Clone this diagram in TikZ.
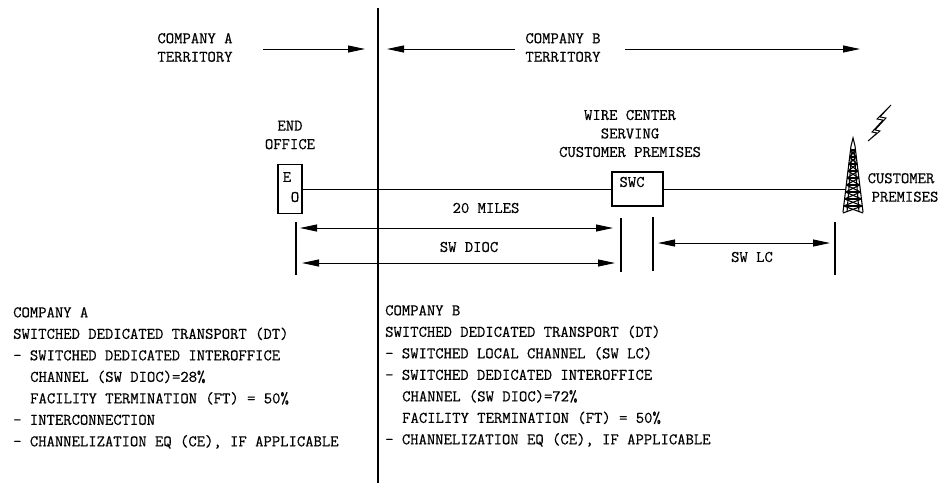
\documentclass[tikz,border=0pt]{standalone}
\usepackage{fontspec}
\setmonofont{Latin Modern Mono}[FakeBold=0.5]
\usetikzlibrary{arrows.meta}

\begin{document}
\begin{tikzpicture}[
        x=1pt, y=-1pt,
        font=\ttfamily\fontsize{16.2}{18.5}\selectfont,
        >={Triangle[length=17pt,width=7pt]},
        wire/.style={line width=0.9pt, black},
        border/.style={line width=2.6pt, black},
        territory/.style={->, line width=0.9pt},
        dimline/.style={<->, line width=0.9pt},
        tick/.style={line width=1.1pt},
        office/.style={draw, line width=1.1pt, inner sep=0pt},
        caption/.style={align=center, inner sep=0pt},
        tower/.style={line width=1.1pt, black},
        notes/.style={align=left, anchor=north west, inner sep=0pt,
            font=\ttfamily\fontsize{16.2}{21.5}\selectfont}
    ]
        \useasboundingbox (0,0) rectangle (940,483);

        % Frontera entre territorios
        \draw[border] (378,8) -- (378,483);

        % Territorios
        \node[caption] (compA) at (195,47.5) {COMPANY A\\TERRITORY};
        \node[caption] (compB) at (563,47.5) {COMPANY B\\TERRITORY};
        \coordinate (aStart) at (263,49);
        \coordinate (aEnd) at (365,49);
        \coordinate (bStart) at (515,49);
        \coordinate (bEnd) at (387,49);
        \coordinate (cStart) at (625,49);
        \coordinate (cEnd) at (860,49);
        \draw[territory] (aStart) -- (aEnd);
        \draw[territory] (bStart) -- (bEnd);
        \draw[territory] (cStart) -- (cEnd);

        % Oficinas
        \node[caption] (eoLabel) at (290,135) {END\\OFFICE};
        \node[office, minimum width=24pt, minimum height=49pt] (eo) at (290,189) {};
        \node[inner sep=0pt] (eoE) at (287,177) {E};
        \node[inner sep=0pt] (eoO) at (295,197) {O};

        \node[caption] (swcLabel) at (630,133.5) {WIRE CENTER\\SERVING\\CUSTOMER PREMISES};
        \node[office, minimum width=51pt, minimum height=34pt] (swc) at (637.5,189) {};
        \node[inner sep=0pt] (swcText) at (632,182) {SWC};

        % Torre del cliente
        \coordinate (tower) at (845,189);
        \draw[tower] (843,212) -- (851,146) -- (853,138) -- (855,146) -- (863,212);
        \draw[tower] (847,212) -- (852,150);
        \draw[tower] (859,212) -- (854,150);
        \foreach \yy in {150,157,...,206} {
            \draw[tower] ({851-(\yy-146)*0.121},\yy) -- ({855+(\yy-146)*0.121},\yy);
            \draw[tower] ({851-(\yy-146)*0.121},\yy) -- ({855+(\yy+7-146)*0.121},\yy+7);
            \draw[tower] ({855+(\yy-146)*0.121},\yy) -- ({851-(\yy+7-146)*0.121},\yy+7);
        }
        \draw[wire] (891,105) -- (880,117) -- (886,118) -- (875,130) -- (880,131)
            -- (868,141) -- (877,133) -- (872,132) -- (883,120) -- (877,119) -- cycle;
        \node[caption] (custLabel) at (901,187.5) {CUSTOMER\\\hspace*{8pt}PREMISES};

        % Enlaces
        \draw[wire] (eo.east) -- (swc.west);
        \draw[wire] (swc.east) -- (tower);

        % Cotas
        \draw[tick] (296,222) -- (296,275);
        \draw[tick] (621,218) -- (621,272);
        \draw[tick] (653,217) -- (653,271);
        \draw[tick] (835,222) -- (835,275);

        \coordinate (milesL) at (300,228);
        \coordinate (milesR) at (613,228);
        \coordinate (diocL) at (302,263);
        \coordinate (diocR) at (615,263);
        \coordinate (lcL) at (658,243);
        \coordinate (lcR) at (830,243);
        \draw[dimline] (milesL) -- (milesR);
        \draw[dimline] (diocL) -- (diocR);
        \draw[dimline] (lcL) -- (lcR);
        \node[inner sep=0pt] (miles) at (486,208) {20 MILES};
        \node[inner sep=0pt] (dioc) at (469,247) {SW DIOC};
        \node[inner sep=0pt] (lc) at (752,257) {SW LC};

        % Notas por compania
        \node[notes] (notesA) at (13,307) {COMPANY A\\
            SWITCHED DEDICATED TRANSPORT (DT)\\
            - SWITCHED DEDICATED INTEROFFICE\\
            \hspace*{17pt}CHANNEL (SW DIOC)=28\%\\
            \hspace*{17pt}FACILITY TERMINATION (FT) = 50\%\\
            - INTERCONNECTION\\
            - CHANNELIZATION EQ (CE), IF APPLICABLE};
        \node[notes] (notesB) at (385,305) {COMPANY B\\
            SWITCHED DEDICATED TRANSPORT (DT)\\
            - SWITCHED LOCAL CHANNEL (SW LC)\\
            - SWITCHED DEDICATED INTEROFFICE\\
            \hspace*{17pt}CHANNEL (SW DIOC)=72\%\\
            \hspace*{17pt}FACILITY TERMINATION (FT) = 50\%\\
            - CHANNELIZATION EQ (CE), IF APPLICABLE};

    \end{tikzpicture}
\end{document}
